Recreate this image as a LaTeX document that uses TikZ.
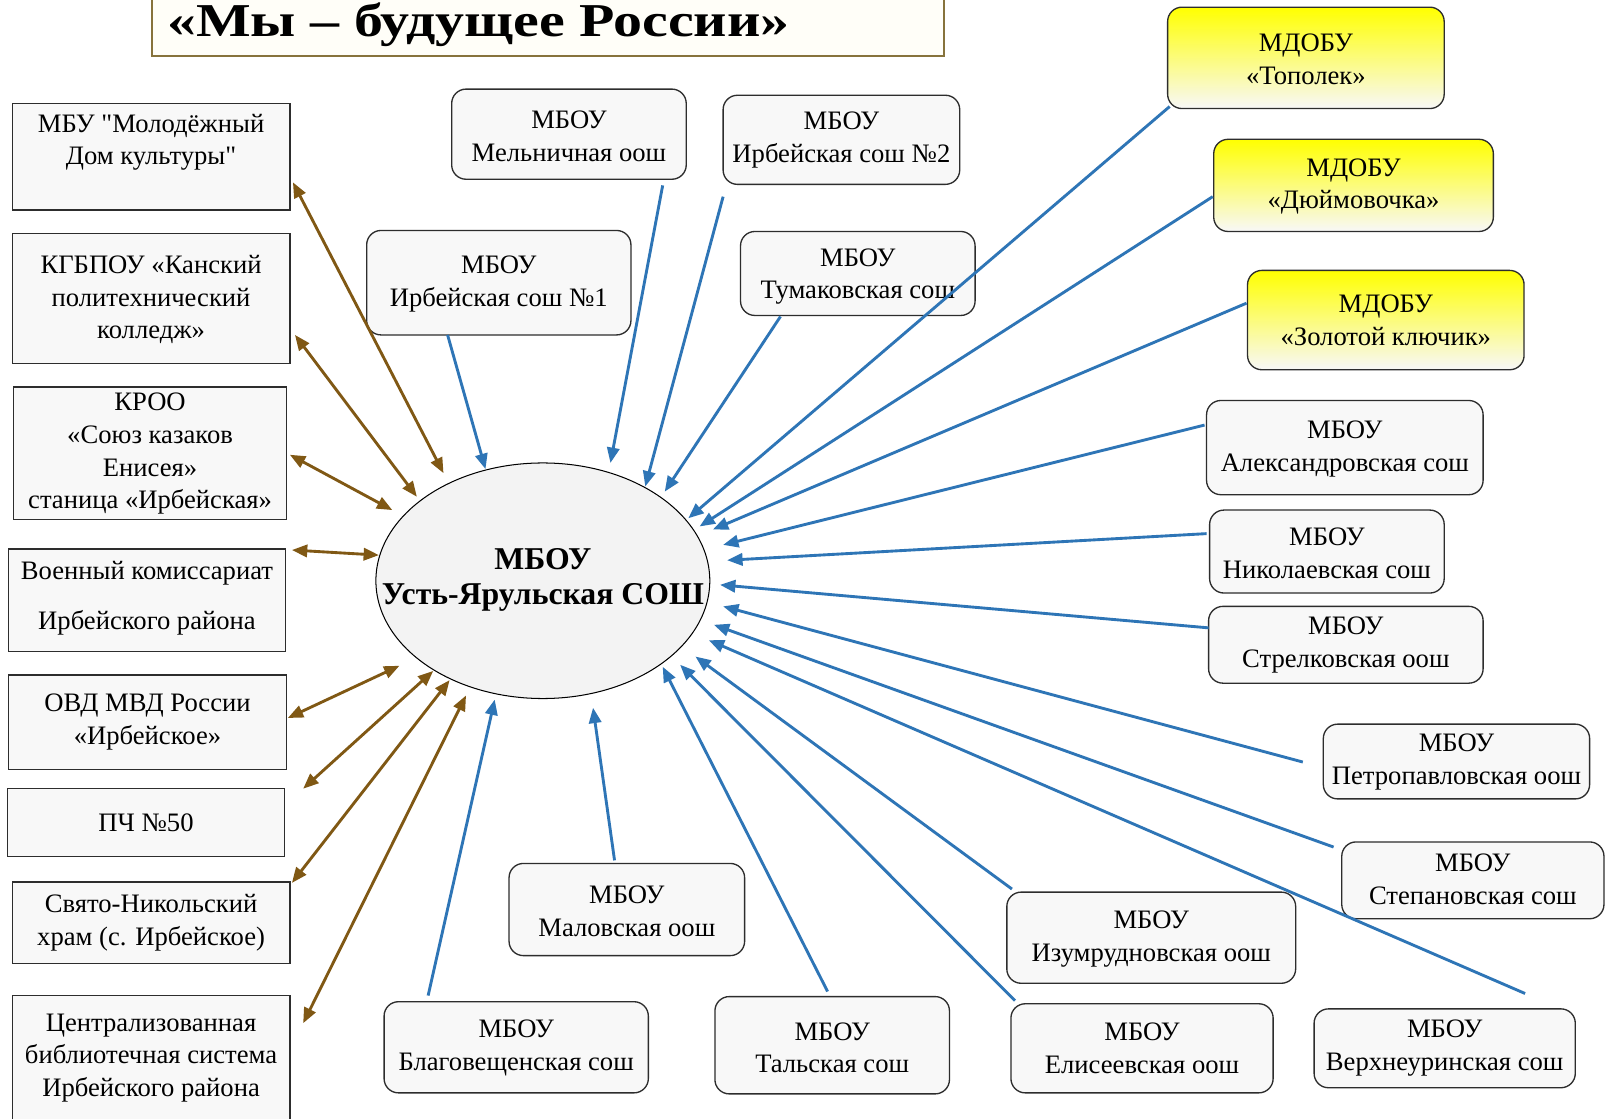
\documentclass[tikz,border=0pt]{standalone}
\usepackage{graphicx}
\usepackage{fontspec}
\setmainfont{Liberation Serif}[Ligatures=TeXOff]
\usetikzlibrary{arrows.meta,shapes.geometric}
\definecolor{linkblue}{RGB}{46,117,182}
\definecolor{linkbrown}{RGB}{128,88,20}
\definecolor{boxfill}{RGB}{248,248,248}
\definecolor{boxline}{RGB}{45,45,45}
\definecolor{titleline}{RGB}{135,115,60}
\definecolor{titlefill}{RGB}{255,254,248}
\definecolor{ovalfill}{RGB}{243,243,243}
\tikzset{
  plainbox/.style={draw=boxline, line width=1.3pt, fill=boxfill, inner sep=0pt},
  roundbox/.style={plainbox, rounded corners=14pt},
  yellowbox/.style={draw=boxline, line width=1.3pt, rounded corners=14pt, inner sep=0pt,
    top color=yellow, middle color=yellow!18!white, bottom color=boxfill},
  lbl/.style={font=\fontsize{26}{32}\selectfont, align=center, inner sep=0pt},
  bluearrow/.style={draw=linkblue, line width=2.8pt, -{Triangle[length=15pt,width=12pt]}},
  brownarrow/.style={draw=linkbrown, line width=2.8pt,
    {Triangle[length=15pt,width=12pt]}-{Triangle[length=15pt,width=12pt]}},
}
\newcommand\mkbox[8]{%
  \node[#1, minimum width={#5-#3}, minimum height={#6-#4}] (#2) at ({(#3+#5)/2},{(#4+#6)/2}) {};
  \node[lbl] (#2-t) at ({(#3+#5)/2},#8) {#7};
}
\begin{document}
\begin{tikzpicture}[x=1pt,y=-1pt]
\useasboundingbox (0,0) rectangle (1568,1091.6);
\fill[white] (0,0) rectangle (1568,1091.6);

% title
\node[draw=titleline, line width=1.8pt, fill=titlefill, minimum width=774, minimum height=62, inner sep=0pt] (title) at (535,24) {};
\node[font=\bfseries\fontsize{46}{52}\selectfont, anchor=base, inner sep=0pt] (title-t) at (467,36) {\scalebox{1.23}[1]{«Мы – будущее России»}};

% left partners
\mkbox{plainbox}{L1}{12}{101}{283}{205}{МБУ "Молодёжный\\Дом культуры"}{139}
\mkbox{plainbox}{L2}{12}{228}{283}{355}{КГБПОУ «Канский\\политехнический\\колледж»}{292.5}
\mkbox{plainbox}{L3}{13}{378}{280}{507}{КРОО\\«Союз казаков\\Енисея»\\станица «Ирбейская»}{443}
\mkbox{plainbox}{L4}{8}{536}{279}{636}{Военный комиссариат\\[16pt]Ирбейского района}{584}
\mkbox{plainbox}{L5}{8}{659}{280}{751}{ОВД МВД России\\«Ирбейское»}{705}
\mkbox{plainbox}{L6}{7}{770}{278}{836}{ПЧ №50}{803}
\mkbox{plainbox}{L7}{12}{861}{283}{941}{Свято-Никольский\\храм (с. Ирбейское)}{901}
\mkbox{plainbox}{L8}{12}{972}{283}{1100}{Централизованная\\библиотечная система\\Ирбейского района}{1033}

% schools
\mkbox{roundbox}{T1}{441}{87}{670}{175}{МБОУ\\Мельничная оош}{133}
\mkbox{roundbox}{T2}{706}{93}{937}{180}{МБОУ\\Ирбейская сош №2}{137}
\mkbox{roundbox}{T3}{358}{225}{616}{327}{МБОУ\\Ирбейская сош №1}{277}
\mkbox{roundbox}{T4}{723}{226}{952}{308}{МБОУ\\Тумаковская сош}{270}
\mkbox{yellowbox}{Y1}{1140}{7}{1410}{106}{МДОБУ\\«Тополек»}{58}
\mkbox{yellowbox}{Y2}{1185}{136}{1458}{226}{МДОБУ\\«Дюймовочка»}{182}
\mkbox{yellowbox}{Y3}{1218}{264}{1488}{361}{МДОБУ\\«Золотой ключик»}{313}
\mkbox{roundbox}{R1}{1178}{391}{1448}{483}{МБОУ\\Александровская сош}{438.5}
\mkbox{roundbox}{R2}{1181}{498}{1410}{579}{МБОУ\\Николаевская сош}{540}
\mkbox{roundbox}{R3}{1180}{592}{1448}{667}{МБОУ\\Стрелковская оош}{630}
\mkbox{roundbox}{R4}{1292}{707}{1552}{780}{МБОУ\\Петропавловская оош}{744}
\mkbox{roundbox}{R5}{1310}{822}{1566}{897}{МБОУ\\Степановская сош}{858.5}
\mkbox{roundbox}{B1}{983}{871}{1265}{960}{МБОУ\\Изумрудновская оош}{916.5}
\mkbox{roundbox}{B2}{1283}{985}{1538}{1062}{МБОУ\\Верхнеуринская сош}{1023}
\mkbox{roundbox}{B3}{987}{980}{1243}{1067}{МБОУ\\Елисеевская оош}{1023.5}
\mkbox{roundbox}{B4}{698}{973}{927}{1068}{МБОУ\\Тальская сош}{1023}
\mkbox{roundbox}{B5}{375}{978}{633}{1067}{МБОУ\\Благовещенская сош}{1023}
\mkbox{roundbox}{B6}{497}{843}{727}{933}{МБОУ\\Маловская оош}{889.5}

% centre
\node[draw=black, line width=1pt, fill=ovalfill, ellipse, minimum width=326, minimum height=230, inner sep=0pt] (c) at (530,567) {};
\node[font=\bfseries\fontsize{31}{34}\selectfont, align=center, inner sep=0pt] (c-t) at (530,566) {МБОУ\\Усть-Ярульская СОШ};

% blue connectors
\foreach \n/\sx/\sy/\ex/\ey in {
  1/437/327/474/458, 2/647/181/596/452, 3/706/192/630/475, 4/762/309/649/480,
  5/1142/104/672/506, 6/1184/192/683/514, 7/1217/296/696/517, 8/1176/415/706/532,
  9/1178/521/710/547, 10/1180/613/703/571, 11/1272/744/706/592, 12/1302/827/697/610,
  13/1489/970/692/625, 14/988/868/679/641, 15/991/977/664/649, 16/808/968/647/651,
  17/418/972/483/683, 18/600/840/579/691}{
  \coordinate (bs\n) at (\sx,\sy);
  \coordinate (be\n) at (\ex,\ey);
  \draw[bluearrow] (bs\n) -- (be\n);
}

% brown connectors
\foreach \n/\sx/\sy/\ex/\ey in {
  1/286/178/433/462, 2/288/327/407/485, 3/283/444/383/498, 4/285/537/370/542,
  5/281/701/390/650, 6/296/770/423/655, 7/285/862/439/664, 8/296/999/455/679}{
  \coordinate (ws\n) at (\sx,\sy);
  \coordinate (we\n) at (\ex,\ey);
  \draw[brownarrow] (ws\n) -- (we\n);
}
\end{tikzpicture}
\end{document}
